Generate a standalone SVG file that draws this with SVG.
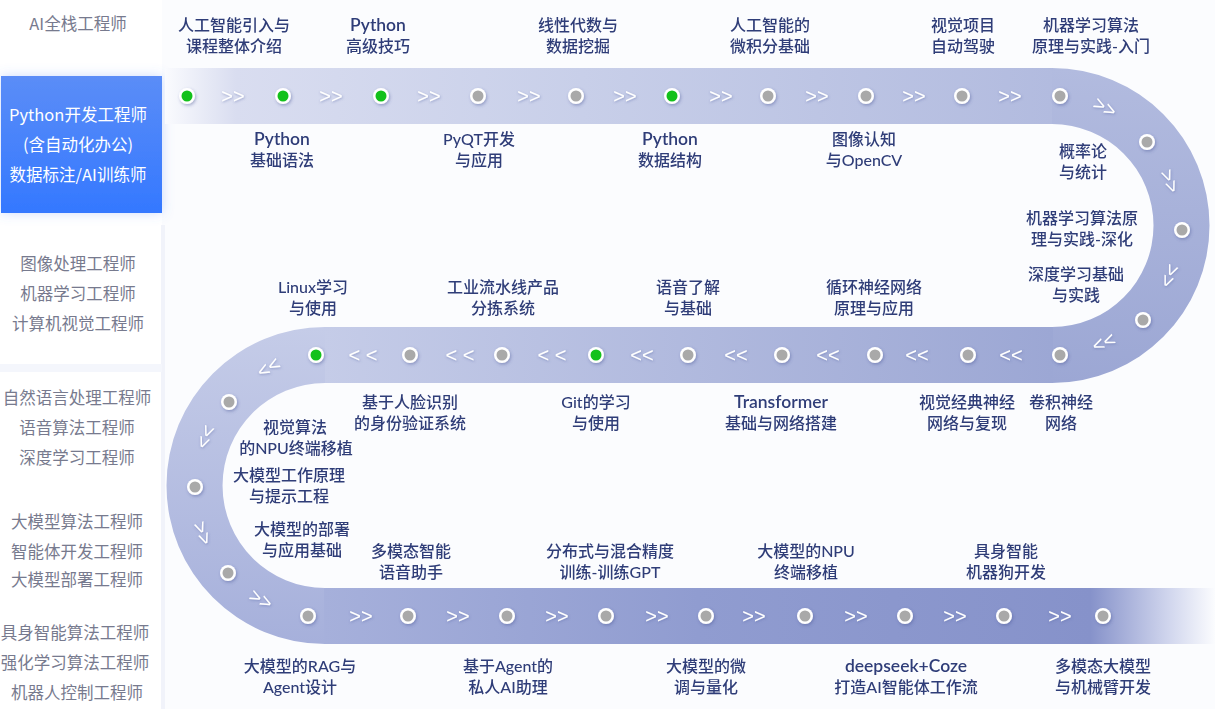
<svg xmlns="http://www.w3.org/2000/svg" width="1215" height="709" viewBox="0 0 1215 709">
<defs>
<style>
.lbl{font-family:"Lato","Noto Sans CJK SC",sans-serif;font-size:16px;fill:#2f3d78;font-weight:500;text-anchor:middle}
.lat{font-size:17.5px;font-weight:600}
.side{font-family:"Noto Sans CJK SC","Noto Sans",sans-serif;font-size:16.5px;fill:#777a8e;text-anchor:middle}
.act{font-family:"Noto Sans CJK SC","Noto Sans",sans-serif;font-size:16.5px;fill:#ffffff;text-anchor:middle}
.arr{font-family:"Liberation Sans",sans-serif;font-size:20px;fill:#ffffff;text-anchor:middle}
.ring{fill:#ffffff}
.on{fill:#13c11b}
.off{fill:#a9a9a9}
</style>
<filter id="sh" x="-50%" y="-50%" width="200%" height="200%">
<feDropShadow dx="1" dy="1.5" stdDeviation="1.5" flood-color="#4a5898" flood-opacity="0.45"/>
</filter>
<filter id="ash" x="-30%" y="-30%" width="160%" height="160%">
<feDropShadow dx="0.5" dy="1" stdDeviation="0.8" flood-color="#5a68a8" flood-opacity="0.5"/>
</filter>
<filter id="bsh" x="-20%" y="-30%" width="140%" height="160%">
<feDropShadow dx="0" dy="0" stdDeviation="6" flood-color="#5b8cf7" flood-opacity="0.3"/>
</filter>
<linearGradient id="gTop" gradientUnits="userSpaceOnUse" x1="165" y1="0" x2="1053" y2="0">
<stop offset="0" stop-color="#fafbfe"/>
<stop offset="0.08" stop-color="#d9ddf0"/>
<stop offset="0.47" stop-color="#c8cfe9"/>
<stop offset="1" stop-color="#b2bbdf"/>
</linearGradient>
<linearGradient id="gRight" gradientUnits="userSpaceOnUse" x1="0" y1="68" x2="0" y2="383">
<stop offset="0" stop-color="#b2bbdf"/>
<stop offset="1" stop-color="#9ca7d4"/>
</linearGradient>
<linearGradient id="gMid" gradientUnits="userSpaceOnUse" x1="1053" y1="0" x2="324" y2="0">
<stop offset="0" stop-color="#9ca7d4"/>
<stop offset="1" stop-color="#c5cce8"/>
</linearGradient>
<linearGradient id="gLeft" gradientUnits="userSpaceOnUse" x1="0" y1="327" x2="0" y2="644">
<stop offset="0" stop-color="#c5cce8"/>
<stop offset="1" stop-color="#a6b0db"/>
</linearGradient>
<linearGradient id="gBot" gradientUnits="userSpaceOnUse" x1="324" y1="0" x2="1215" y2="0">
<stop offset="0" stop-color="#a6b0db"/>
<stop offset="0.42" stop-color="#909cd0"/>
<stop offset="0.86" stop-color="#8692ca"/>
<stop offset="0.95" stop-color="#d2d7ee"/>
<stop offset="1" stop-color="#fbfcfe"/>
</linearGradient>
<linearGradient id="gBlue" x1="0" y1="0" x2="0" y2="1">
<stop offset="0" stop-color="#5b8df7"/>
<stop offset="1" stop-color="#3478ff"/>
</linearGradient>
</defs>

<rect x="0" y="0" width="1215" height="709" fill="#fbfcfe"/>

<g id="sidebar">
<rect x="0" y="0" width="162" height="709" fill="#ffffff"/>
<rect x="161" y="225" width="4" height="484" fill="#f1f3fa"/>
<rect x="0" y="364" width="162" height="8" fill="#f4f6fc"/>
<text class="side" x="78" y="30">AI全栈工程师</text>
<g id="active-role">
<rect x="1" y="76" width="161" height="137" fill="url(#gBlue)" filter="url(#bsh)"/>
<text class="act" x="78" y="121">Python开发工程师</text>
<text class="act" x="78" y="151">(含自动化办公)</text>
<text class="act" x="78" y="181">数据标注/AI训练师</text>
</g>
<text class="side" x="78" y="270">图像处理工程师</text>
<text class="side" x="78" y="300">机器学习工程师</text>
<text class="side" x="78" y="330">计算机视觉工程师</text>
<text class="side" x="77" y="404">自然语言处理工程师</text>
<text class="side" x="77" y="434">语音算法工程师</text>
<text class="side" x="77" y="464">深度学习工程师</text>
<text class="side" x="77" y="528">大模型算法工程师</text>
<text class="side" x="77" y="558">智能体开发工程师</text>
<text class="side" x="77" y="586">大模型部署工程师</text>
<text class="side" x="75" y="639">具身智能算法工程师</text>
<text class="side" x="75" y="669">强化学习算法工程师</text>
<text class="side" x="77" y="699">机器人控制工程师</text>
</g>

<g id="track">
<rect x="165" y="68" width="888" height="56" fill="url(#gTop)"/>
<path d="M1052 68 A157.5 157.5 0 0 1 1052 383 L1052 327 A101.5 101.5 0 0 0 1052 124 Z" fill="url(#gRight)"/>
<rect x="324" y="327" width="729" height="56" fill="url(#gMid)"/>
<path d="M325 327 A158.5 158.5 0 0 0 325 644 L325 588 A102.5 102.5 0 0 1 325 383 Z" fill="url(#gLeft)"/>
<rect x="324" y="588" width="891" height="56" fill="url(#gBot)"/>
</g>

<g id="connectors" filter="url(#ash)">
<text class="arr" x="233" y="103">&gt;&gt;</text>
<text class="arr" x="331" y="103">&gt;&gt;</text>
<text class="arr" x="429" y="103">&gt;&gt;</text>
<text class="arr" x="529" y="103">&gt;&gt;</text>
<text class="arr" x="625" y="103">&gt;&gt;</text>
<text class="arr" x="721" y="103">&gt;&gt;</text>
<text class="arr" x="817" y="103">&gt;&gt;</text>
<text class="arr" x="914" y="103">&gt;&gt;</text>
<text class="arr" x="1010" y="103">&gt;&gt;</text>
<g transform="translate(1105 107) rotate(28)"><text class="arr" x="0" y="7">&gt;&gt;</text></g>
<g transform="translate(1170 181) rotate(68)"><text class="arr" x="0" y="7">&gt;&gt;</text></g>
<g transform="translate(1170 276) rotate(113)"><text class="arr" x="0" y="7">&gt;&gt;</text></g>
<g transform="translate(1104 343) rotate(157)"><text class="arr" x="0" y="7">&gt;&gt;</text></g>
<text class="arr" x="1011" y="362">&lt;&lt;</text>
<text class="arr" x="917" y="362">&lt;&lt;</text>
<text class="arr" x="828" y="362">&lt;&lt;</text>
<text class="arr" x="736" y="362">&lt;&lt;</text>
<text class="arr" x="642" y="362">&lt;&lt;</text>
<text class="arr" x="552" y="362">&lt; &lt;</text>
<text class="arr" x="460" y="362">&lt; &lt;</text>
<text class="arr" x="363" y="362">&lt; &lt;</text>
<g transform="translate(269 368) rotate(151)"><text class="arr" x="0" y="7">&gt;&gt;</text></g>
<g transform="translate(206 437) rotate(112)"><text class="arr" x="0" y="7">&gt;&gt;</text></g>
<g transform="translate(203 533) rotate(69)"><text class="arr" x="0" y="7">&gt;&gt;</text></g>
<g transform="translate(261 599) rotate(28)"><text class="arr" x="0" y="7">&gt;&gt;</text></g>
<text class="arr" x="361" y="623">&gt;&gt;</text>
<text class="arr" x="458" y="623">&gt;&gt;</text>
<text class="arr" x="557" y="623">&gt;&gt;</text>
<text class="arr" x="657" y="623">&gt;&gt;</text>
<text class="arr" x="754" y="623">&gt;&gt;</text>
<text class="arr" x="856" y="623">&gt;&gt;</text>
<text class="arr" x="955" y="623">&gt;&gt;</text>
<text class="arr" x="1060" y="623">&gt;&gt;</text>
</g>

<g id="n01"><circle class="ring" cx="187" cy="96" r="8" filter="url(#sh)"/><circle class="on" cx="187" cy="96" r="5.5"/><text class="lbl" x="234" y="31">人工智能引入与</text><text class="lbl" x="234" y="52">课程整体介绍</text></g>
<g id="n02"><circle class="ring" cx="283" cy="96" r="8" filter="url(#sh)"/><circle class="on" cx="283" cy="96" r="5.5"/><text class="lbl lat" x="282" y="145">Python</text><text class="lbl" x="282" y="166">基础语法</text></g>
<g id="n03"><circle class="ring" cx="381" cy="96" r="8" filter="url(#sh)"/><circle class="on" cx="381" cy="96" r="5.5"/><text class="lbl lat" x="378" y="31">Python</text><text class="lbl" x="378" y="52">高级技巧</text></g>
<g id="n04"><circle class="ring" cx="478" cy="96" r="8" filter="url(#sh)"/><circle class="off" cx="478" cy="96" r="5.5"/><text class="lbl" x="479" y="145">PyQT开发</text><text class="lbl" x="479" y="166">与应用</text></g>
<g id="n05"><circle class="ring" cx="576" cy="96" r="8" filter="url(#sh)"/><circle class="off" cx="576" cy="96" r="5.5"/><text class="lbl" x="578" y="31">线性代数与</text><text class="lbl" x="578" y="52">数据挖掘</text></g>
<g id="n06"><circle class="ring" cx="672" cy="96" r="8" filter="url(#sh)"/><circle class="on" cx="672" cy="96" r="5.5"/><text class="lbl lat" x="670" y="145">Python</text><text class="lbl" x="670" y="166">数据结构</text></g>
<g id="n07"><circle class="ring" cx="768" cy="96" r="8" filter="url(#sh)"/><circle class="off" cx="768" cy="96" r="5.5"/><text class="lbl" x="770" y="31">人工智能的</text><text class="lbl" x="770" y="52">微积分基础</text></g>
<g id="n08"><circle class="ring" cx="866" cy="96" r="8" filter="url(#sh)"/><circle class="off" cx="866" cy="96" r="5.5"/><text class="lbl" x="864" y="145">图像认知</text><text class="lbl" x="864" y="166">与OpenCV</text></g>
<g id="n09"><circle class="ring" cx="962" cy="96" r="8" filter="url(#sh)"/><circle class="off" cx="962" cy="96" r="5.5"/><text class="lbl" x="963" y="31">视觉项目</text><text class="lbl" x="963" y="52">自动驾驶</text></g>
<g id="n10"><circle class="ring" cx="1060" cy="96" r="8" filter="url(#sh)"/><circle class="off" cx="1060" cy="96" r="5.5"/><text class="lbl" x="1091" y="31">机器学习算法</text><text class="lbl" x="1091" y="52">原理与实践-入门</text></g>
<g id="n11"><circle class="ring" cx="1147" cy="142" r="8" filter="url(#sh)"/><circle class="off" cx="1147" cy="142" r="5.5"/><text class="lbl" x="1083" y="157">概率论</text><text class="lbl" x="1083" y="178">与统计</text></g>
<g id="n12"><circle class="ring" cx="1182" cy="230" r="8" filter="url(#sh)"/><circle class="off" cx="1182" cy="230" r="5.5"/><text class="lbl" x="1082" y="224">机器学习算法原</text><text class="lbl" x="1082" y="245">理与实践-深化</text></g>
<g id="n13"><circle class="ring" cx="1143" cy="320" r="8" filter="url(#sh)"/><circle class="off" cx="1143" cy="320" r="5.5"/><text class="lbl" x="1076" y="280">深度学习基础</text><text class="lbl" x="1076" y="301">与实践</text></g>
<g id="n14"><circle class="ring" cx="1060" cy="355" r="8" filter="url(#sh)"/><circle class="off" cx="1060" cy="355" r="5.5"/><text class="lbl" x="1061" y="408">卷积神经</text><text class="lbl" x="1061" y="429">网络</text></g>
<g id="n15"><circle class="ring" cx="968" cy="355" r="8" filter="url(#sh)"/><circle class="off" cx="968" cy="355" r="5.5"/><text class="lbl" x="967" y="408">视觉经典神经</text><text class="lbl" x="967" y="429">网络与复现</text></g>
<g id="n16"><circle class="ring" cx="875" cy="355" r="8" filter="url(#sh)"/><circle class="off" cx="875" cy="355" r="5.5"/><text class="lbl" x="874" y="293">循环神经网络</text><text class="lbl" x="874" y="314">原理与应用</text></g>
<g id="n17"><circle class="ring" cx="782" cy="355" r="8" filter="url(#sh)"/><circle class="off" cx="782" cy="355" r="5.5"/><text class="lbl lat" x="781" y="408">Transformer</text><text class="lbl" x="781" y="429">基础与网络搭建</text></g>
<g id="n18"><circle class="ring" cx="688" cy="355" r="8" filter="url(#sh)"/><circle class="off" cx="688" cy="355" r="5.5"/><text class="lbl" x="688" y="293">语音了解</text><text class="lbl" x="688" y="314">与基础</text></g>
<g id="n19"><circle class="ring" cx="596" cy="355" r="8" filter="url(#sh)"/><circle class="on" cx="596" cy="355" r="5.5"/><text class="lbl" x="596" y="408">Git的学习</text><text class="lbl" x="596" y="429">与使用</text></g>
<g id="n20"><circle class="ring" cx="502" cy="355" r="8" filter="url(#sh)"/><circle class="off" cx="502" cy="355" r="5.5"/><text class="lbl" x="503" y="293">工业流水线产品</text><text class="lbl" x="503" y="314">分拣系统</text></g>
<g id="n21"><circle class="ring" cx="410" cy="355" r="8" filter="url(#sh)"/><circle class="off" cx="410" cy="355" r="5.5"/><text class="lbl" x="410" y="408">基于人脸识别</text><text class="lbl" x="410" y="429">的身份验证系统</text></g>
<g id="n22"><circle class="ring" cx="316" cy="355" r="8" filter="url(#sh)"/><circle class="on" cx="316" cy="355" r="5.5"/><text class="lbl" x="313" y="293">Linux学习</text><text class="lbl" x="313" y="314">与使用</text></g>
<g id="n23"><circle class="ring" cx="229" cy="402" r="8" filter="url(#sh)"/><circle class="off" cx="229" cy="402" r="5.5"/><text class="lbl" x="295" y="433">视觉算法</text><text class="lbl" x="296" y="454">的NPU终端移植</text></g>
<g id="n24"><circle class="ring" cx="195" cy="487" r="8" filter="url(#sh)"/><circle class="off" cx="195" cy="487" r="5.5"/><text class="lbl" x="289" y="481">大模型工作原理</text><text class="lbl" x="289" y="502">与提示工程</text></g>
<g id="n25"><circle class="ring" cx="228" cy="573" r="8" filter="url(#sh)"/><circle class="off" cx="228" cy="573" r="5.5"/><text class="lbl" x="302" y="535">大模型的部署</text><text class="lbl" x="302" y="556">与应用基础</text></g>
<g id="n26"><circle class="ring" cx="308" cy="616" r="8" filter="url(#sh)"/><circle class="off" cx="308" cy="616" r="5.5"/><text class="lbl" x="300" y="672">大模型的RAG与</text><text class="lbl" x="300" y="693">Agent设计</text></g>
<g id="n27"><circle class="ring" cx="408" cy="616" r="8" filter="url(#sh)"/><circle class="off" cx="408" cy="616" r="5.5"/><text class="lbl" x="411" y="557">多模态智能</text><text class="lbl" x="411" y="578">语音助手</text></g>
<g id="n28"><circle class="ring" cx="507" cy="616" r="8" filter="url(#sh)"/><circle class="off" cx="507" cy="616" r="5.5"/><text class="lbl" x="508" y="672">基于Agent的</text><text class="lbl" x="508" y="693">私人AI助理</text></g>
<g id="n29"><circle class="ring" cx="606" cy="616" r="8" filter="url(#sh)"/><circle class="off" cx="606" cy="616" r="5.5"/><text class="lbl" x="610" y="557">分布式与混合精度</text><text class="lbl" x="610" y="578">训练-训练GPT</text></g>
<g id="n30"><circle class="ring" cx="706" cy="616" r="8" filter="url(#sh)"/><circle class="off" cx="706" cy="616" r="5.5"/><text class="lbl" x="706" y="672">大模型的微</text><text class="lbl" x="706" y="693">调与量化</text></g>
<g id="n31"><circle class="ring" cx="805" cy="616" r="8" filter="url(#sh)"/><circle class="off" cx="805" cy="616" r="5.5"/><text class="lbl" x="806" y="557">大模型的NPU</text><text class="lbl" x="806" y="578">终端移植</text></g>
<g id="n32"><circle class="ring" cx="905" cy="616" r="8" filter="url(#sh)"/><circle class="off" cx="905" cy="616" r="5.5"/><text class="lbl lat" x="906" y="672">deepseek+Coze</text><text class="lbl" x="906" y="693">打造AI智能体工作流</text></g>
<g id="n33"><circle class="ring" cx="1004" cy="616" r="8" filter="url(#sh)"/><circle class="off" cx="1004" cy="616" r="5.5"/><text class="lbl" x="1006" y="557">具身智能</text><text class="lbl" x="1006" y="578">机器狗开发</text></g>
<g id="n34"><circle class="ring" cx="1103" cy="616" r="8" filter="url(#sh)"/><circle class="off" cx="1103" cy="616" r="5.5"/><text class="lbl" x="1103" y="672">多模态大模型</text><text class="lbl" x="1103" y="693">与机械臂开发</text></g>
</svg>
